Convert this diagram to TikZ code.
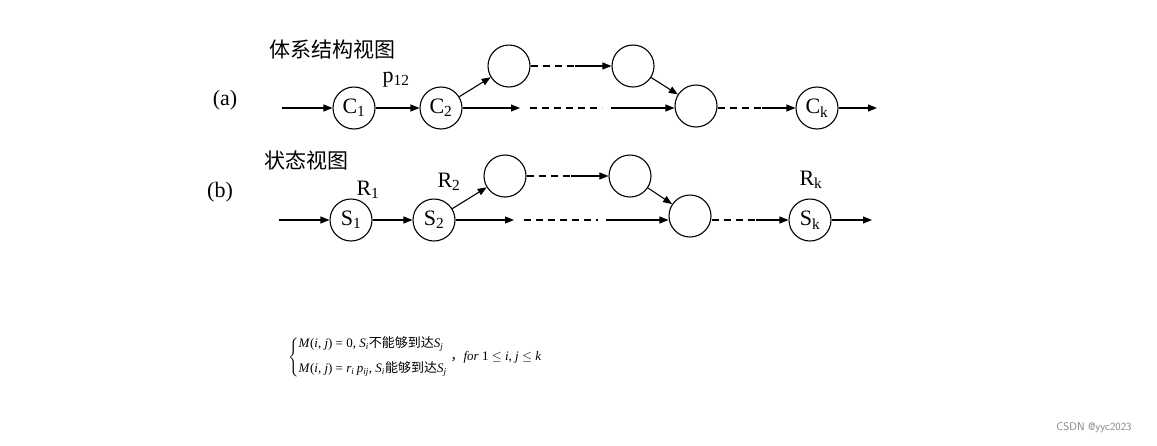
\documentclass[tikz,border=0pt]{standalone}
\usepackage{fontspec}
\usepackage{graphicx}
\setmainfont{Liberation Serif}
\newfontfamily\cjk{Noto Sans CJK SC}
\usetikzlibrary{arrows.meta}
\newcommand{\ii}[1]{\textit{#1}}
\begin{document}
\begin{tikzpicture}[x=1pt,y=-1pt,
  st/.style={circle,draw,line width=1.1pt,minimum size=42pt,inner sep=0pt,font=\fontsize{22}{24}\selectfont},
  ar/.style={line width=1.1pt,-{Triangle[length=9pt,width=7pt]}},
  ln/.style={line width=1.1pt},
  dsh/.style={line width=1.1pt,dash pattern=on 7pt off 5pt},
  lab/.style={font=\fontsize{22}{24}\selectfont},
  cj/.style={font=\cjk\fontsize{21}{24}\selectfont}]
\useasboundingbox (0,0) rectangle (1157,445);
% row a
\node[lab] (la) at (225,100) {(a)};
\node[cj] (ta) at (332,50) {体系结构视图};
\node[st] (c1) at (354,108) {C\textsubscript{1}};
\node[st] (c2) at (441,108) {C\textsubscript{2}};
\node[st] (u1) at (509,66) {};
\node[st] (u2) at (633,66) {};
\node[st] (m) at (696,106) {};
\node[st] (ck) at (817,108) {C\textsubscript{k}};
\node[lab] (p12) at (396,80) {p\textsubscript{12}};
\coordinate (sa) at (282,108);
\coordinate (ea) at (877,108);
\coordinate (a1) at (520,108);
\coordinate (a2) at (530,108);
\coordinate (a3) at (602,108);
\coordinate (a4) at (611,108);
\coordinate (b1) at (575,66);
\coordinate (d1) at (762,108);
\draw[ar] (sa) -- (c1);
\draw[ar] (c1) -- (c2);
\draw[ar] (c2) -- (u1);
\draw[ar] (c2.east) -- (a1);
\draw[dsh] (a2) -- (a3);
\draw[ar] (a4) -- (m.west |- a4);
\draw[dsh] (u1) -- (b1);
\draw[ar] (b1) -- (u2);
\draw[ar] (u2) -- (m);
\draw[dsh] (m.east |- d1) -- (d1);
\draw[ar] (d1) -- (ck);
\draw[ar] (ck) -- (ea);
% row b
\node[lab] (lb) at (220,192) {(b)};
\node[cj] (tb) at (306,160) {状态视图};
\node[st] (s1) at (351,220) {S\textsubscript{1}};
\node[st] (s2) at (434,220) {S\textsubscript{2}};
\node[st] (v1) at (505,176) {};
\node[st] (v2) at (630,176) {};
\node[st] (n) at (690,216) {};
\node[st] (sk) at (810,220) {S\textsubscript{k}};
\node[lab] (r1) at (368,190) {R\textsubscript{1}};
\node[lab] (r2) at (449,182) {R\textsubscript{2}};
\node[lab] (rk) at (811,180) {R\textsubscript{k}};
\coordinate (sb) at (279,220);
\coordinate (eb) at (872,220);
\coordinate (g1) at (514,220);
\coordinate (g2) at (524,220);
\coordinate (g3) at (598,220);
\coordinate (g4) at (606,220);
\coordinate (h1) at (571,176);
\coordinate (k1) at (756,220);
\draw[ar] (sb) -- (s1);
\draw[ar] (s1) -- (s2);
\draw[ar] (s2) -- (v1);
\draw[ar] (s2.east) -- (g1);
\draw[dsh] (g2) -- (g3);
\draw[ar] (g4) -- (n.west |- g4);
\draw[dsh] (v1) -- (h1);
\draw[ar] (h1) -- (v2);
\draw[ar] (v2) -- (n);
\draw[dsh] (n.east |- k1) -- (k1);
\draw[ar] (k1) -- (sk);
\draw[ar] (sk) -- (eb);
% formula
\node[anchor=west,inner sep=0pt] (f) at (288,357)
 {\scalebox{1.3}{$\left\{\begin{array}{@{}l@{}}\mbox{\ii{M}(\ii{i}, \ii{j}) = 0, \ii{S}\textsubscript{\ii{i}}{\cjk 不能够到达}\ii{S}\textsubscript{\ii{j}}}\\[7pt]
  \mbox{\ii{M}(\ii{i}, \ii{j}) = \ii{r}\textsubscript{\ii{i}}\,\ii{p}\textsubscript{\ii{ij}}, \ii{S}\textsubscript{\ii{i}}{\cjk 能够到达}\ii{S}\textsubscript{\ii{j}}}\end{array}\right.$\,{\cjk ，}\ii{for} 1 $\le$ \ii{i}, \ii{j} $\le$ \ii{k}}};
\node[font=\sffamily\fontsize{11}{12}\selectfont,text=gray] (w) at (1094,428) {CSDN @yyc2023};
\end{tikzpicture}
\end{document}
